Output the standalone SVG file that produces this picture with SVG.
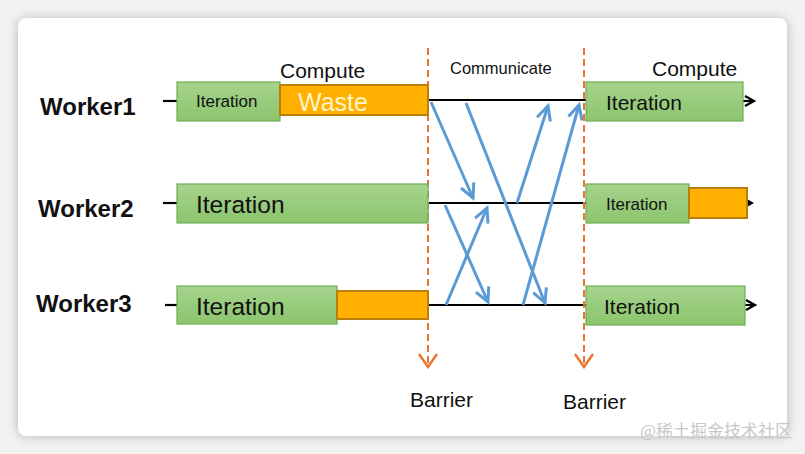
<svg xmlns="http://www.w3.org/2000/svg" width="805" height="454" viewBox="0 0 805 454">
<defs>
<filter id="sh" x="-5%" y="-5%" width="110%" height="110%"><feGaussianBlur stdDeviation="6"/></filter>
<marker id="ba" viewBox="0 0 18 18" refX="15" refY="9" markerWidth="18" markerHeight="18" markerUnits="userSpaceOnUse" orient="auto"><path d="M1,2 L15,9 L1,16" fill="none" stroke="#5b9bd5" stroke-width="3"/></marker>
<marker id="oa" viewBox="0 0 22 18" refX="11" refY="16" markerWidth="22" markerHeight="18" markerUnits="userSpaceOnUse" orient="0"><path d="M2,3 L11,16 L20,3" fill="none" stroke="#e8742e" stroke-width="2.4"/></marker>
<linearGradient id="g" x1="0" y1="0" x2="0" y2="1"><stop offset="0" stop-color="#a5d38c"/><stop offset="1" stop-color="#8cc56e"/></linearGradient>
<style>
.gr{fill:url(#g);stroke:#6fae55;stroke-width:1.2}
.or{fill:#ffb000;stroke:#b97f0a;stroke-width:2}
.ln{stroke:#000;stroke-width:2.2;fill:none}
.bl{stroke:#5b9bd5;stroke-width:3;fill:none;marker-end:url(#ba)}
.br{stroke:#e8742e;stroke-width:2;stroke-dasharray:7,4;fill:none;marker-end:url(#oa)}
text{font-family:"Liberation Sans",Arial,sans-serif;fill:#111}
.wk{font-weight:bold;font-size:24px}
</style>
</defs>
<rect width="805" height="454" fill="#f2f2f2"/>
<rect x="18" y="19" width="769" height="417" rx="8" fill="#000" opacity="0.25" filter="url(#sh)"/>
<rect x="18" y="18" width="769" height="418" rx="8" fill="#fff"/>

<g id="connectors">
<line class="ln" x1="163" y1="101" x2="177" y2="101"/>
<line class="ln" x1="163" y1="203" x2="177" y2="203"/>
<line class="ln" x1="165" y1="305" x2="177" y2="305"/>
<line class="ln" x1="428" y1="100" x2="586" y2="100"/>
<line class="ln" x1="428" y1="203" x2="586" y2="203"/>
<line class="ln" x1="428" y1="305" x2="586" y2="305"/>
<line class="ln" x1="743" y1="101" x2="754" y2="101"/>
<path d="M745,96 L754,101 L745,106" fill="none" stroke="#000" stroke-width="2.2"/>
<path d="M747,199 L754,203 L747,207 Z" fill="#000"/>
<line class="ln" x1="745" y1="305" x2="754" y2="305"/>
<path d="M746,300 L755,305 L746,310" fill="none" stroke="#000" stroke-width="2.2"/>
<line class="bl" x1="431" y1="102" x2="473" y2="198"/>
<line class="bl" x1="466" y1="103" x2="545" y2="303"/>
<line class="bl" x1="517" y1="203" x2="548" y2="106"/>
<line class="bl" x1="445" y1="205" x2="488" y2="302"/>
<line class="bl" x1="446" y1="305" x2="487" y2="208"/>
<line class="bl" x1="523" y1="305" x2="579" y2="105"/>
<line class="br" x1="428" y1="48" x2="428" y2="367"/>
<line class="br" x1="584" y1="48" x2="584" y2="367"/>
</g>

<g id="worker1">
<text class="wk" x="40" y="115">Worker1</text>
<rect class="gr" x="177" y="82" width="103" height="39"/>
<text x="196" y="107" font-size="17">Iteration</text>
<rect class="or" x="280" y="85" width="148" height="30"/>
<text x="298" y="111" font-size="25" style="fill:#fff4c8">Waste</text>
<text x="280" y="78" font-size="21">Compute</text>
</g>

<g id="worker2">
<text class="wk" x="38" y="217">Worker2</text>
<rect class="gr" x="177" y="184" width="251" height="39"/>
<text x="196" y="213" font-size="24.5">Iteration</text>
</g>

<g id="worker3">
<text class="wk" x="36" y="312">Worker3</text>
<rect class="gr" x="177" y="286" width="160" height="38"/>
<text x="196" y="315" font-size="24.5">Iteration</text>
<rect class="or" x="337" y="291" width="91" height="28"/>
</g>

<g id="communicate">
<text x="450" y="74" font-size="16.5">Communicate</text>
</g>

<g id="next-w1">
<text x="652" y="76" font-size="21">Compute</text>
<rect class="gr" x="586" y="82" width="157" height="39"/>
<text x="606" y="110" font-size="21">Iteration</text>
</g>

<g id="next-w2">
<rect class="gr" x="586" y="184" width="103" height="39"/>
<text x="606" y="210" font-size="17">Iteration</text>
<rect class="or" x="689" y="188" width="58" height="30"/>
</g>

<g id="next-w3">
<rect class="gr" x="586" y="286" width="159" height="39"/>
<text x="604" y="314" font-size="21">Iteration</text>
</g>

<g id="barriers">
<text x="410" y="407" font-size="21">Barrier</text>
<text x="563" y="409" font-size="21">Barrier</text>
</g>

<text x="640" y="437" font-size="17" style="fill:#c8c8c8;font-family:'Noto Sans CJK SC',sans-serif">@稀土掘金技术社区</text>
</svg>
